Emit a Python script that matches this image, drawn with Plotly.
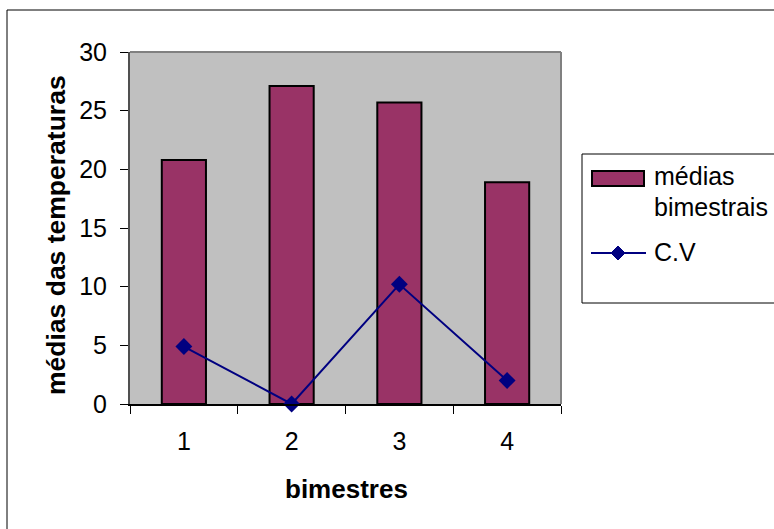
import plotly.graph_objects as go

# Bimonthly means and coefficient of variation
bimestres = [1, 2, 3, 4]
medias = [20.8, 27.1, 25.7, 18.9]
cv = [4.9, 0.0, 10.2, 2.0]
y_ticks = [0, 5, 10, 15, 20, 25, 30]

FONT = "Liberation Sans, Arial, sans-serif"
BAR_COLOR = "#993366"
LINE_COLOR = "#000080"

# plot area in pixels: x 130..561, y 52..404
PL, PR, PT, PB = 130, 561, 52, 404


def px(x):
    return (x - PL) / (PR - PL)


def py(y):
    return (PB - y) / (PB - PT)


fig = go.Figure()
fig.add_trace(go.Bar(
    x=bimestres, y=medias, name="médias bimestrais",
    width=0.41, marker=dict(color=BAR_COLOR, line=dict(color="#000000", width=2)),
))
fig.add_trace(go.Scatter(
    x=bimestres, y=cv, name="C.V", mode="lines+markers",
    line=dict(color=LINE_COLOR, width=2),
    marker=dict(symbol="diamond", size=13, color=LINE_COLOR),
    cliponaxis=False,
))

shapes = [
    # plot area frame (top and right edges)
    dict(type="line", xref="paper", yref="paper", x0=0, x1=1, y0=1, y1=1,
         line=dict(color="#808080", width=2)),
    dict(type="line", xref="paper", yref="paper", x0=1, x1=1, y0=0, y1=1,
         line=dict(color="#808080", width=2)),
    # legend box
    dict(type="rect", xref="paper", yref="paper",
         x0=px(582), x1=px(800), y0=py(303), y1=py(154),
         line=dict(color="#000000", width=1), fillcolor="rgba(0,0,0,0)"),
    # legend swatch for bars
    dict(type="rect", xref="paper", yref="paper",
         x0=px(592), x1=px(644), y0=py(186), y1=py(171),
         line=dict(color="#000000", width=2), fillcolor=BAR_COLOR),
    # legend line sample
    dict(type="line", xref="paper", yref="paper",
         x0=px(591), x1=px(646), y0=py(253), y1=py(253),
         line=dict(color=LINE_COLOR, width=2)),
    dict(type="path", xref="paper", yref="paper",
         path=f"M {px(618)} {py(246)} L {px(625)} {py(253)} L {px(618)} {py(260)} L {px(611)} {py(253)} Z",
         line=dict(color=LINE_COLOR, width=1), fillcolor=LINE_COLOR),
    # chart area outer border
    dict(type="rect", xref="paper", yref="paper",
         x0=px(7), x1=px(800), y0=py(560), y1=py(10),
         line=dict(color="#000000", width=1), fillcolor="rgba(0,0,0,0)"),
]

annotations = [
    dict(text="médias", x=px(652), y=py(176), xref="paper", yref="paper",
         xanchor="left", yanchor="middle", showarrow=False, font=dict(size=25)),
    dict(text="bimestrais", x=px(652), y=py(207), xref="paper", yref="paper",
         xanchor="left", yanchor="middle", showarrow=False, font=dict(size=25)),
    dict(text="C.V", x=px(652), y=py(252), xref="paper", yref="paper",
         xanchor="left", yanchor="middle", showarrow=False, font=dict(size=25)),
    dict(text="<b>bimestres</b>", x=px(346), y=py(489), xref="paper", yref="paper",
         xanchor="center", yanchor="middle", showarrow=False, font=dict(size=26)),
    dict(text="<b>médias das temperaturas</b>", x=px(56), y=py(235), xref="paper", yref="paper",
         xanchor="center", yanchor="middle", textangle=-90, showarrow=False,
         font=dict(size=26.5)),
]

fig.update_layout(
    width=774, height=529,
    margin=dict(l=PL, r=774 - PR, t=PT, b=529 - PB),
    paper_bgcolor="white", plot_bgcolor="#C0C0C0",
    font=dict(family=FONT, size=25, color="black"),
    showlegend=False,
    xaxis=dict(
        range=[0.5, 4.5], tickvals=bimestres, ticktext=[str(b) for b in bimestres],
        ticks="outside", ticklen=14, tickcolor="rgba(0,0,0,0)",
        minor=dict(tickvals=[0.5, 1.5, 2.5, 3.5, 4.5], ticks="outside", ticklen=8,
                   tickcolor="#000000", tickwidth=1),
        showline=True, linecolor="#000000", linewidth=2, showgrid=False, zeroline=False,
        tickfont=dict(size=25),
    ),
    yaxis=dict(
        range=[0, 30], tickvals=y_ticks, ticks="outside", ticklen=8,
        tickcolor="#000000", showline=True, linecolor="#505050", linewidth=2,
        showgrid=False, zeroline=False, ticklabelstandoff=8,
        tickfont=dict(size=25),
    ),
    shapes=shapes,
    annotations=annotations,
)

fig.write_html("out.html")
